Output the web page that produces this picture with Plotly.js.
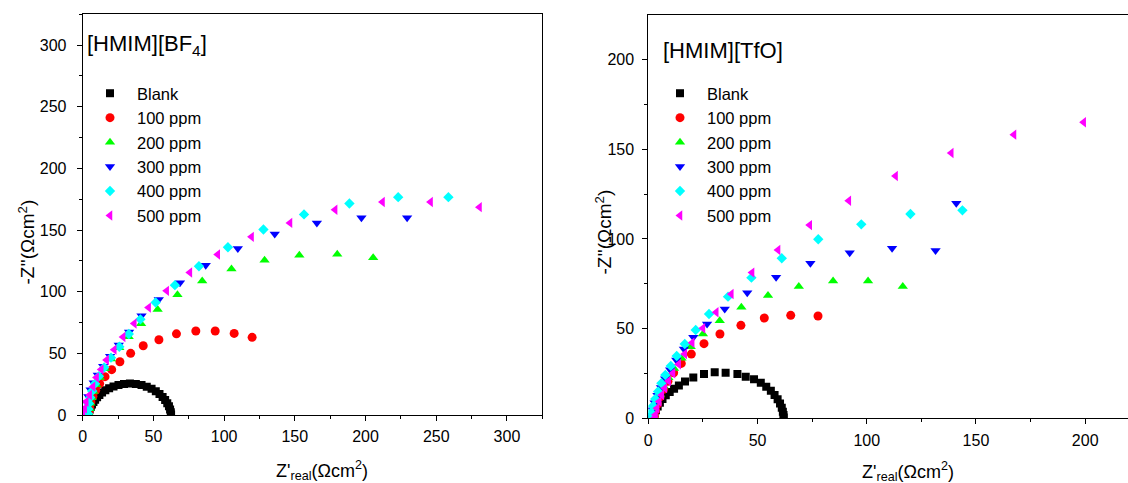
<!DOCTYPE html>
<html>
<head>
<meta charset="utf-8">
<script src="https://cdn.plot.ly/plotly-3.0.1.min.js"></script>
<style>html,body{margin:0;padding:0;background:#fff;}#chart{width:1128px;height:483px;}</style>
</head>
<body>
<div id="chart"></div>
<script>
// ---------- Data: [HMIM][BF4] (left panel) ----------
const seriesNames = ["Blank", "100 ppm", "200 ppm", "300 ppm", "400 ppm", "500 ppm"];

const bf4BlankX = [3.7,4.2,4.9,5.7,6.6,7.6,8.8,10.2,11.8,13.7,16,18.7,21.8,25.3,29.2,33.4,37.6,41.6,45.3,48.7,51.7,54.3,56.5,58.3,59.8,61,61.8,62.3,62.5];
const bf4BlankY = [0.5,2.5,4.5,6.5,8.5,10.5,12.4,14.4,16.3,18.2,20,21.7,23.2,24.4,25.2,25.5,25.2,24.3,22.9,21.2,19.2,17,14.6,12.1,9.6,7,4.5,2.2,0.5];

const bf4P100X = [4.4,4.9,5.8,7.2,9.2,12,15.8,20.5,26.3,33.9,42.8,53.9,66.3,80,93.7,107.1,119.8];
const bf4P100Y = [2,6,10.5,15,20,25.5,31.1,36.8,43.2,50,56.2,61,65.8,68.1,68.1,66.2,63];

const bf4P200X = [4.5,4.8,5.4,6.3,7.6,9.5,12,15.5,20,25.9,32.5,41.3,53,67,84.5,105.2,128.6,153.2,180,205.4];
const bf4P200Y = [1,5,9.5,14,19,24.5,30.5,37.5,45.5,54.5,63.5,74,85.5,97.5,108.6,118.4,125.6,129.6,130.3,127.6];

const bf4P300X = [1.5,2,2.8,4,5.6,7.8,10.7,14.5,19.4,25.5,32.8,41.6,53.8,68.8,87,109.7,135.8,165.6,197.1,229.4];
const bf4P300Y = [1.5,5.5,10,15,20.5,26.2,32.5,39.5,47.6,56.7,67.4,80.6,93.7,107.2,121.4,135,146.9,155.7,160,160];

const bf4P400X = [3.7,3.9,4.4,5.3,6.7,8.7,11.5,15.2,20,25.9,32.6,40.8,51.6,65.2,82.2,102.7,127.8,156.5,188.6,223.1,258.6];
const bf4P400Y = [1,4.8,9.3,14.2,19.5,25.3,31.5,38.5,46.5,55.4,65.7,77.6,91.2,105.3,120.7,136.1,150.5,162.7,171.6,176.7,176.7];

const bf4P500X = [0.2,1.4,2.5,4.9,7.3,9.8,13.1,16.9,22.3,28.6,36.5,46.6,59.4,75.8,95.5,119.4,146.6,178.5,212,246,280.6];
const bf4P500Y = [1.4,5.4,10.8,16.2,23,30.4,37,44.6,53,63.3,74.2,87.1,100.7,115.6,130.2,144.5,155.8,166.5,172.7,172.7,168.6];

// ---------- Data: [HMIM][TfO] (right panel) ----------
const tfoBlankX = [2.3,2.8,3.5,4.3,5.3,6.5,8,9.8,11.8,14,16.8,20.6,25.5,30.4,35.4,40.8,44.6,48.4,51.5,54,56.1,57.8,59.2,60.3,61.1,61.6,61.9,62];
const tfoBlankY = [0.5,2.5,4.5,6.6,8.7,10.8,12.8,14.7,16.5,18.3,20.5,22.8,24.7,25.6,25.4,24.7,23.2,21.7,19.8,17.6,15.3,13,10.6,8.2,5.9,3.7,1.8,0.5];

const tfoP100X = [2.7,3.3,4.2,5.4,7,9,11.6,15.1,19.7,25.5,32.8,42.4,53.1,65.2,77.7];
const tfoP100Y = [1,4.3,8,12,16.2,20.6,25.4,30.6,35.8,41.6,47,51.8,55.9,57.4,57];

const tfoP200X = [2,2.8,3.9,5.3,7,9.2,11.8,15.2,19.4,25,32.7,42.6,54.8,68.9,84.6,100.6,116.5];
const tfoP200Y = [1.5,5,9,13.3,17.8,22.6,27.8,33.5,39.9,47,54.4,61.9,68.4,73.4,76.5,76.5,73.5];

const tfoP300X = [1,1.8,2.9,4.2,5.8,7.7,10,12.8,16.3,20.6,26.9,35,45.3,58.5,74.2,92.2,111.6,131.5,141];
const tfoP300Y = [1.5,4.8,8.6,12.8,17.2,22,27,32.5,38.6,45.2,52.6,60.9,70,78.6,86.4,92.3,94.8,93.6,119.8];

const tfoP400X = [0.5,1.2,2.1,3.2,4.5,6,7.8,10.3,13,16.7,21.7,27.8,36.5,47.2,61.1,77.8,97.5,120,143.8];
const tfoP400Y = [0.5,3.2,6.8,10.8,15,19.5,24.1,29.2,34.7,41.4,49.2,58.1,67.8,78.4,89.2,99.8,108.1,113.9,115.9];

const tfoP500X = [3,3.3,4,5,6.2,7.6,9.3,11.3,13.9,16.7,20.1,25,31.1,38,47.5,59.4,73.9,91.8,113.2,138.7,167.4,199.3];
const tfoP500Y = [0.3,2,5.6,9.3,13,16.8,20.8,25.1,30.1,35.8,42.1,50.2,59.1,69.3,81.2,93.8,107.7,121.3,135.1,147.9,158.1,165];

// ---------- Styling ----------
const colors  = ["#000000", "#FF0000", "#00FF00", "#0000FF", "#00FFFF", "#FF00FF"];
const symbols = ["square", "circle", "triangle-up", "triangle-down", "diamond", "triangle-left"];
const sizes   = [8, 9, 9, 9, 8, 9];

const FONT = "Liberation Sans, Arial, Helvetica, sans-serif";

const leftX  = [bf4BlankX, bf4P100X, bf4P200X, bf4P300X, bf4P400X, bf4P500X];
const leftY  = [bf4BlankY, bf4P100Y, bf4P200Y, bf4P300Y, bf4P400Y, bf4P500Y];
const rightX = [tfoBlankX, tfoP100X, tfoP200X, tfoP300X, tfoP400X, tfoP500X];
const rightY = [tfoBlankY, tfoP100Y, tfoP200Y, tfoP300Y, tfoP400Y, tfoP500Y];

const traces = [];
seriesNames.forEach((name, i) => {
  traces.push({
    type: "scatter", mode: "markers", name: name,
    x: leftX[i], y: leftY[i], xaxis: "x", yaxis: "y",
    legend: "legend", legendgroup: "L" + i,
    marker: {symbol: symbols[i], color: colors[i], size: sizes[i], line: {width: 0}}
  });
});
seriesNames.forEach((name, i) => {
  traces.push({
    type: "scatter", mode: "markers", name: name,
    x: rightX[i], y: rightY[i], xaxis: "x2", yaxis: "y2",
    legend: "legend2", legendgroup: "R" + i,
    marker: {symbol: symbols[i], color: colors[i], size: sizes[i], line: {width: 0}}
  });
});

const W = 1128, H = 483;
const px = v => v / W;
const py = v => 1 - v / H;

const axisCommon = {
  showgrid: false, zeroline: false, showline: true, linecolor: "#000", linewidth: 1,
  ticks: "outside", ticklen: 5, tickwidth: 1, tickcolor: "#000",
  tickfont: {family: FONT, size: 16, color: "#000"},
  tick0: 0, dtick: 50,
  minor: {ticks: "outside", ticklen: 3, tickwidth: 1, tickcolor: "#000", dtick: 25, tick0: 0, showgrid: false}
};

const legendCommon = {
  font: {family: FONT, size: 16.5, color: "#000"},
  bgcolor: "rgba(0,0,0,0)", borderwidth: 0, itemwidth: 44,
  xanchor: "left", yanchor: "top", traceorder: "grouped", tracegroupgap: 0
};

const layout = {
  width: W, height: H,
  margin: {l: 0, r: 0, t: 0, b: 0},
  paper_bgcolor: "#fff", plot_bgcolor: "#fff",
  font: {family: FONT, color: "#000"},
  showlegend: true,
  xaxis: Object.assign({}, axisCommon, {domain: [px(82.7), px(542.3)], range: [0, 325], anchor: "y", mirror: true, ticklabelstandoff: 2}),
  yaxis: Object.assign({}, axisCommon, {domain: [py(415), py(14.3)], range: [0, 325], anchor: "x", mirror: true, ticklabelstandoff: 7}),
  xaxis2: Object.assign({}, axisCommon, {domain: [px(648.3), 1], range: [0, 219.6], anchor: "y2", mirror: true, ticklabelstandoff: 2}),
  yaxis2: Object.assign({}, axisCommon, {domain: [py(418.3), py(15)], range: [0, 224.8], anchor: "x2", mirror: false, ticklabelstandoff: 5}),
  legend: Object.assign({}, legendCommon, {x: px(83), y: py(76)}),
  legend2: Object.assign({}, legendCommon, {x: px(653), y: py(76)}),
  annotations: [
    {text: "[HMIM][BF<sub>4</sub>]", xref: "paper", yref: "paper", x: px(85), y: py(45), xanchor: "left", yanchor: "middle", showarrow: false, font: {family: FONT, size: 22, color: "#000"}},
    {text: "[HMIM][TfO]", xref: "paper", yref: "paper", x: px(661), y: py(50), xanchor: "left", yanchor: "middle", showarrow: false, font: {family: FONT, size: 22, color: "#000"}},
    {text: "-Z''(Ωcm<sup>2</sup>)", xref: "paper", yref: "paper", x: px(26), y: py(242.5), xanchor: "center", yanchor: "middle", textangle: -90, showarrow: false, font: {family: FONT, size: 19, color: "#000"}},
    {text: "-Z''(Ωcm<sup>2</sup>)", xref: "paper", yref: "paper", x: px(603), y: py(232.5), xanchor: "center", yanchor: "middle", textangle: -90, showarrow: false, font: {family: FONT, size: 19, color: "#000"}},
    {text: "Z'<sub>real</sub>(Ωcm<sup>2</sup>)", xref: "paper", yref: "paper", x: px(322), y: py(470), xanchor: "center", yanchor: "middle", showarrow: false, font: {family: FONT, size: 18, color: "#000"}},
    {text: "Z'<sub>real</sub>(Ωcm<sup>2</sup>)", xref: "paper", yref: "paper", x: px(908), y: py(471), xanchor: "center", yanchor: "middle", showarrow: false, font: {family: FONT, size: 18, color: "#000"}}
  ]
};

Plotly.newPlot("chart", traces, layout, {displayModeBar: false, staticPlot: true});
</script>
</body>
</html>
